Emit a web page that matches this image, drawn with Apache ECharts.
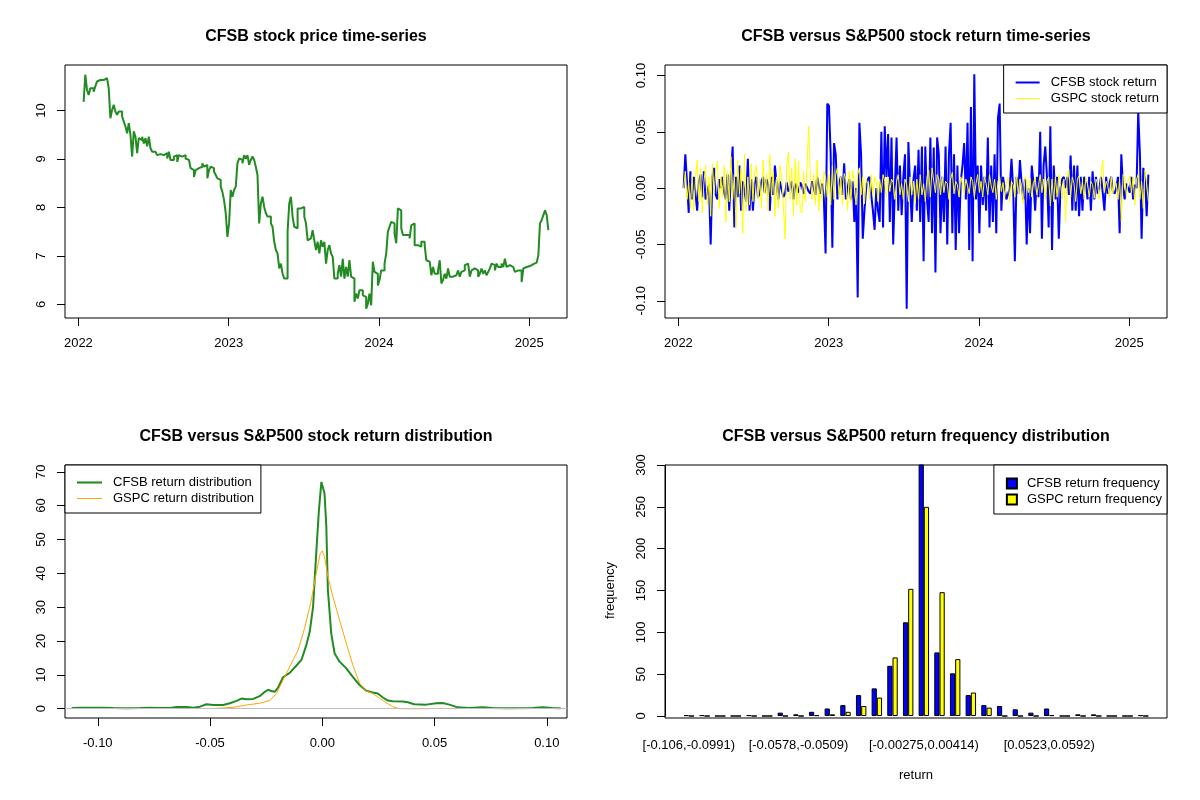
<!DOCTYPE html>
<html>
<head>
<meta charset="utf-8">
<script src="https://cdn.jsdelivr.net/npm/echarts@6/dist/echarts.min.js"></script>
<style>
  html, body { margin: 0; padding: 0; background: #fff; }
  #chart { width: 1200px; height: 800px; }
</style>
</head>
<body>
<div id="chart"></div>
<script>
// ---- data ----
var dateStart = 2022.035, dateEnd = 2025.127;   // decimal years, first/last trading day
var yearTicks = [2022, 2023, 2024, 2025];

var cfsbPrice = [
  10.18, 10.74, 10.43, 10.32, 10.46, 10.46, 10.39, 10.50, 10.60, 10.63,
  10.60, 10.63, 10.63, 10.67, 10.67, 10.46, 9.84, 10.01, 10.12, 9.98,
  9.91, 9.98, 9.98, 9.88, 9.77, 9.67, 9.53, 9.74, 9.50, 9.05,
  9.57, 9.46, 9.12, 9.43, 9.39, 9.46, 9.32, 9.43, 9.26, 9.46,
  9.22, 9.15, 9.15, 9.12, 9.08, 9.10, 9.12, 9.08, 9.05, 9.12,
  9.01, 9.15, 8.98, 8.98, 9.05, 9.08, 8.94, 9.08, 9.05, 9.01,
  9.08, 9.01, 8.98, 8.98, 8.81, 8.77, 8.63, 8.77, 8.81, 8.84,
  8.84, 8.91, 8.84, 8.88, 8.60, 8.77, 8.84, 8.81, 8.74, 8.67,
  8.60, 8.57, 8.43, 8.32, 8.15, 7.88, 7.39, 7.67, 8.36, 8.22,
  8.36, 8.43, 8.91, 9.01, 8.98, 8.91, 9.08, 9.01, 9.08, 8.88,
  8.98, 9.05, 8.98, 8.84, 8.67, 7.67, 8.08, 8.22, 8.01, 7.88,
  7.81, 7.81, 7.67, 7.60, 7.29, 7.12, 7.05, 6.74, 6.84, 6.63,
  6.53, 6.53, 7.50, 8.08, 8.22, 7.81, 7.60, 7.57, 7.98, 7.98,
  7.94, 8.01, 7.81, 7.67, 7.32, 7.36, 7.36, 7.53, 7.32, 7.12,
  7.29, 7.05, 7.32, 7.19, 7.29, 6.84, 7.12, 7.22, 7.05, 6.98,
  6.53, 6.53, 6.63, 6.81, 6.57, 6.94, 6.53, 6.77, 6.57, 6.91,
  6.57, 6.53, 6.05, 6.22, 6.12, 6.29, 6.29, 6.19, 6.15, 5.91,
  6.01, 6.22, 5.98, 6.88, 6.67, 6.63, 6.39, 6.50, 6.70, 6.70,
  6.84, 7.05, 7.50, 7.60, 7.70, 7.67, 7.46, 7.26, 7.98, 7.94,
  7.57, 7.43, 7.43, 7.43, 7.43, 7.36, 7.63, 7.67, 7.22, 7.22,
  7.22, 7.19, 7.29, 7.29, 7.22, 6.91, 6.88, 6.88, 6.60, 6.77,
  6.63, 6.63, 6.70, 6.91, 6.43, 6.50, 6.63, 6.53, 6.74, 6.57,
  6.57, 6.60, 6.60, 6.63, 6.70, 6.57, 6.67, 6.70, 6.81, 6.84,
  6.84, 6.57, 6.70, 6.74, 6.70, 6.70, 6.57, 6.63, 6.74, 6.63,
  6.70, 6.60, 6.67, 6.74, 6.84, 6.81, 6.70, 6.84, 6.77, 6.77,
  6.84, 6.77, 6.94, 6.77, 6.81, 6.77, 6.77, 6.74, 6.67, 6.70,
  6.74, 6.70, 6.46, 6.74, 6.77, 6.77, 6.79, 6.81, 6.83, 6.84,
  6.86, 6.88, 7.01, 7.67, 7.74, 7.84, 7.94, 7.84, 7.53
];

var cfsbReturn = [
  0.000, 0.030, 0.005, -0.022, 0.015, -0.010, 0.010, -0.005, -0.020, 0.005,
  0.012, -0.008, 0.015, -0.010, -0.005, 0.003, -0.050, 0.010, 0.018, -0.006,
  -0.010, 0.008, 0.000, 0.010, -0.004, -0.010, 0.012, -0.020, 0.012, 0.037,
  -0.035, 0.010, -0.008, 0.020, -0.020, 0.006, 0.005, -0.012, 0.026, -0.020,
  0.008, -0.020, 0.004, 0.010, -0.008, -0.005, 0.006, 0.010, -0.004, 0.008,
  0.003, -0.020, 0.010, -0.006, 0.020, 0.004, -0.010, 0.006, 0.005, -0.008,
  -0.005, 0.005, -0.003, 0.000, 0.006, -0.010, 0.004, 0.000, -0.004, 0.005,
  0.002, -0.005, 0.004, 0.005, -0.003, -0.005, 0.006, 0.000, -0.006, 0.010,
  0.002, -0.005, 0.004, -0.010, -0.058, 0.075, 0.073, 0.030, -0.053, 0.040,
  0.030, -0.010, 0.004, 0.010, -0.006, 0.022, -0.010, 0.000, 0.008, -0.010,
  0.006, -0.030, 0.000, -0.097, 0.058, 0.030, -0.045, -0.020, 0.000, 0.008,
  0.010, -0.006, -0.020, -0.037, 0.000, -0.020, -0.030, 0.050, -0.035, 0.055,
  0.010, 0.048, -0.030, 0.045, -0.050, 0.000, 0.045, -0.020, 0.020, -0.024,
  0.010, 0.030, -0.107, 0.041, 0.000, -0.030, 0.008, 0.020, -0.020, 0.034,
  -0.030, 0.037, -0.065, 0.037, -0.010, -0.030, 0.045, -0.040, 0.036, -0.075,
  0.045, 0.030, -0.040, 0.010, -0.030, 0.037, -0.050, 0.030, 0.058, -0.040,
  0.030, -0.055, 0.020, -0.040, 0.006, 0.020, 0.040, -0.010, 0.058, -0.055,
  0.072, -0.065, 0.101, -0.010, 0.020, -0.040, 0.020, -0.015, 0.010, -0.020,
  0.045, -0.035, 0.020, -0.030, 0.030, -0.040, 0.062, 0.075, -0.020, 0.010,
  0.000, -0.010, -0.005, 0.000, 0.026, 0.000, -0.065, 0.010, -0.005, 0.025,
  0.004, -0.010, 0.008, -0.050, 0.000, -0.040, 0.020, 0.005, -0.020, 0.010,
  -0.008, 0.050, -0.045, 0.020, 0.037, 0.010, -0.035, 0.055, -0.055, 0.020,
  -0.010, 0.010, -0.045, 0.000, 0.008, 0.010, 0.000, 0.010, -0.006, 0.029,
  -0.020, 0.020, -0.020, 0.020, -0.025, 0.010, -0.020, 0.010, 0.004, -0.010,
  0.010, -0.020, 0.015, -0.010, 0.010, -0.005, 0.000, 0.010, -0.004, -0.020,
  0.010, -0.005, 0.004, 0.010, -0.003, -0.005, 0.000, 0.010, -0.040, 0.030,
  0.000, -0.010, 0.004, 0.000, -0.004, 0.010, -0.010, 0.003, 0.000, 0.068,
  0.030, -0.045, 0.018, 0.010, -0.025, 0.012
];

var gspcReturn = [
  // 2022
  0.000, 0.015, -0.010, 0.005, -0.018, 0.012, -0.020, 0.008, 0.025, -0.012,
  0.018, -0.022, 0.005, 0.020, -0.015, 0.010, -0.025, 0.022, -0.005, 0.015,
  0.024, -0.018, 0.010, -0.008, 0.020, -0.030, 0.015, -0.012, 0.028, -0.010,
  0.012, -0.035, 0.025, -0.005, 0.018, -0.040, 0.030, -0.020, 0.010, -0.015,
  0.022, -0.012, 0.015, 0.020, -0.010, 0.008, -0.018, 0.025, -0.005, 0.012,
  -0.020, 0.030, -0.008, 0.015, -0.025, 0.010, -0.018, 0.020, 0.012, -0.015,
  -0.045, 0.020, 0.032, -0.010, 0.018, -0.025, 0.026, -0.015, 0.024, -0.020,
  -0.022, 0.015, -0.012, 0.020, 0.055, 0.010, -0.010, 0.012, -0.015, 0.025,
  -0.020, 0.008, -0.012, 0.015, 0.010, -0.008, 0.012, -0.015,
  // 2023
  0.020, -0.010, 0.012, 0.018, -0.008, 0.010, -0.015, 0.013, 0.008, -0.020,
  0.015, -0.012, 0.016, 0.005, -0.015, 0.012, 0.018, -0.006, 0.010, -0.014,
  0.008, 0.004, -0.010, 0.012, -0.006, 0.010, 0.006, -0.012, 0.008, -0.004,
  0.012, 0.006, -0.008, 0.010, -0.003, 0.008, 0.005, -0.010, 0.006, 0.012,
  -0.006, 0.004, -0.010, 0.008, 0.003, -0.012, 0.010, -0.006, 0.006, -0.014,
  0.008, -0.010, 0.012, -0.006, 0.004, -0.012, 0.010, 0.016, -0.008, 0.018,
  0.006, -0.004, 0.012, 0.008, -0.006, 0.010, -0.004, 0.006, 0.004, -0.010,
  0.008, 0.014, -0.005, 0.006, 0.003, -0.008, 0.010, 0.004, -0.006, 0.008,
  0.002, -0.005, 0.010, 0.006, -0.008, 0.004, 0.012, -0.004, 0.006,
  // 2024
  -0.008, 0.010, 0.004, -0.006, 0.012, 0.002, -0.004, 0.008, -0.010, 0.006,
  0.010, -0.003, 0.005, -0.008, 0.004, 0.010, -0.012, 0.006, 0.003, -0.008,
  0.012, -0.005, 0.008, 0.002, -0.014, 0.010, 0.006, -0.004, 0.009, -0.008,
  0.004, 0.010, -0.006, 0.003, 0.012, -0.004, 0.008, -0.010, 0.006, 0.010,
  -0.016, 0.008, -0.012, 0.010, -0.008, 0.012, 0.004, -0.010, 0.008, -0.030,
  0.012, 0.017, -0.008, 0.010, 0.004, -0.012, 0.008, 0.011, -0.005, 0.006,
  -0.010, 0.010, 0.004, -0.008, 0.006, 0.003, -0.009, 0.008, 0.004, -0.010,
  0.012, 0.025, -0.004, 0.006, 0.002, -0.008, 0.010, -0.005, 0.006, 0.004,
  -0.010, 0.008, -0.030, 0.012, 0.010, -0.008, 0.006, 0.011, -0.004,
  // 2025
  0.010, -0.015, 0.008, 0.012, -0.010, 0.006, -0.018, 0.016, 0.004, -0.012
];

// kernel density curves (return, density)
var cfsbDensX = [-0.1116, -0.1079, -0.1019, -0.0975, -0.0930, -0.0871, -0.0812, -0.0767, -0.0723, -0.0679,
  -0.0649, -0.0604, -0.0575, -0.0545, -0.0516, -0.0486, -0.0441, -0.0412, -0.0382, -0.0360,
  -0.0338, -0.0308, -0.0279, -0.0256, -0.0241, -0.0227, -0.0212, -0.0197, -0.0175, -0.0145,
  -0.0116, -0.0093, -0.0071, -0.0056, -0.0041, -0.0027, -0.0015, -0.0004, 0.0003, 0.0010,
  0.0018, 0.0025, 0.0040, 0.0055, 0.0077, 0.0107, 0.0136, 0.0166, 0.0196, 0.0225,
  0.0247, 0.0270, 0.0292, 0.0314, 0.0359, 0.0381, 0.0410, 0.0462, 0.0507, 0.0536,
  0.0566, 0.0603, 0.0655, 0.0714, 0.0759, 0.0833, 0.0936, 0.0981, 0.1025, 0.1062];
var cfsbDensY = [0.2, 0.3, 0.3, 0.3, 0.2, 0.1, 0.2, 0.3, 0.2, 0.2,
  0.5, 0.5, 0.3, 0.6, 1.3, 1.1, 1.1, 1.6, 2.3, 3.0,
  2.8, 2.9, 3.7, 5.0, 5.6, 5.2, 5.0, 6.2, 9.3, 10.6,
  12.7, 14.4, 18.8, 22.7, 30.1, 45.9, 58.7, 67.0, 67.3, 63.6,
  53.7, 35.0, 22.2, 16.3, 13.9, 11.9, 9.4, 7.0, 5.3, 4.8,
  4.5, 3.3, 2.4, 2.2, 2.1, 1.9, 1.3, 1.2, 1.6, 1.7,
  1.2, 0.4, 0.2, 0.4, 0.2, 0.1, 0.2, 0.4, 0.2, 0.1];
var gspcDensX = [-0.0471, -0.0397, -0.0338, -0.0279, -0.0234, -0.0204, -0.0175, -0.0145, -0.0108, -0.0079,
  -0.0049, -0.0027, -0.0009, 0.0000, 0.0010, 0.0025, 0.0047, 0.0077, 0.0107, 0.0136,
  0.0166, 0.0196, 0.0225, 0.0255, 0.0284, 0.0314, 0.0344, 0.0403, 0.0462, 0.0507,
  0.0536, 0.0566, 0.0596];
var gspcDensY = [0.1, 0.4, 1.1, 1.6, 2.4, 4.5, 8.4, 12.4, 17.3, 23.7,
  32.1, 40.0, 45.9, 46.6, 44.9, 39.0, 33.1, 26.2, 19.3, 12.9,
  7.5, 5.2, 4.5, 3.1, 1.8, 0.6, 0.0, 0.0, 0.0, 0.1,
  0.1, 0.05, 0.0];

// return frequency table
var binLabels = ['[-0.106,-0.0991)', '[-0.0991,-0.0923)', '[-0.0923,-0.0854)', '[-0.0854,-0.0785)',
  '[-0.0785,-0.0716)', '[-0.0716,-0.0647)', '[-0.0647,-0.0578)', '[-0.0578,-0.0509)',
  '[-0.0509,-0.0441)', '[-0.0441,-0.0372)', '[-0.0372,-0.0303)', '[-0.0303,-0.0234)',
  '[-0.0234,-0.0165)', '[-0.0165,-0.00963)', '[-0.00963,-0.00275)', '[-0.00275,0.00414)',
  '[0.00414,0.011)', '[0.011,0.0179)', '[0.0179,0.0248)', '[0.0248,0.0317)',
  '[0.0317,0.0386)', '[0.0386,0.0455)', '[0.0455,0.0523)', '[0.0523,0.0592)',
  '[0.0592,0.0661)', '[0.0661,0.073)', '[0.073,0.0799)', '[0.0799,0.0868)',
  '[0.0868,0.0936)', '[0.0936,0.101]'];
var cfsbFreq = [1, 1, 0, 0, 1, 0, 4, 2, 5, 9, 13, 25, 33, 60, 112, 310, 76, 51, 25, 13, 12, 8, 4, 9, 0, 2, 2, 0, 0, 1];
var gspcFreq = [0, 0, 0, 0, 0, 0, 0, 0, 1, 2, 5, 12, 22, 70, 152, 250, 148, 68, 28, 10, 0, 0, 0, 1, 0, 0, 0, 0, 0, 0];
var shownBins = [0, 7, 15, 23];

// ---- chart ----
var FONT = 'Liberation Sans, Arial, Helvetica, sans-serif';
var THICK = 'path://M0,0H24V2H0Z';   // legend line samples
var THIN = 'path://M0,0H24V1H0Z';

function onDates(values) {
  // daily series spread evenly between first and last trading day
  var step = (dateEnd - dateStart) / (values.length - 1);
  return values.map(function (v, i) { return [dateStart + i * step, v]; });
}
function pairs(xs, ys) {
  return xs.map(function (x, i) { return [x, ys[i]]; });
}

function valueAxis(grid, min, max, ticks, digits, isY) {
  return {
    type: 'value', gridIndex: grid, min: min, max: max, scale: true,
    axisLine: { show: false, onZero: false },
    splitLine: { show: false },
    axisTick: { show: true, length: 8, customValues: ticks, lineStyle: { color: '#000', width: 1 } },
    axisLabel: {
      customValues: ticks, color: '#000', fontSize: 13, fontFamily: FONT,
      margin: isY ? 17 : 19, rotate: isY ? 90 : 0,
      formatter: function (v) { return v.toFixed(digits); }
    }
  };
}

var frame = { show: true, borderColor: '#000', borderWidth: 1, backgroundColor: 'transparent' };
function titleAt(text, x, y) {
  return { text: text, left: x, top: y, textAlign: 'center', padding: 0,
    textStyle: { fontSize: 16, fontWeight: 'bold', color: '#000', fontFamily: FONT } };
}
function legendBox(extra) {
  var base = {
    orient: 'vertical', selectedMode: false, backgroundColor: '#fff',
    borderColor: '#000', borderWidth: 1, borderRadius: 0, itemGap: 3,
    textStyle: { fontSize: 13, fontFamily: FONT, color: '#000', padding: [0, 0, 0, 6] }
  };
  return Object.assign(base, extra);
}

var chart = echarts.init(document.getElementById('chart'));
var option = {
  animation: false,
  backgroundColor: '#fff',
  title: [
    titleAt('CFSB stock price time-series', 316, 29),
    titleAt('CFSB versus S&P500 stock return time-series', 916, 29),
    titleAt('CFSB versus S&P500 stock return distribution', 316, 429),
    titleAt('CFSB versus S&P500 return frequency distribution', 916, 429)
  ],
  legend: [
    legendBox({
      data: [{ name: 'CFSB stock return', icon: THICK }, { name: 'GSPC stock return', icon: THIN }],
      right: 33, top: 65, itemWidth: 24, itemHeight: 13, padding: [11, 8, 8, 12],
      itemStyle: { borderWidth: 0 }
    }),
    legendBox({
      data: [{ name: 'CFSB return distribution', icon: THICK }, { name: 'GSPC return distribution', icon: THIN }],
      left: 65, top: 465, itemWidth: 25, itemHeight: 13, padding: [11, 7, 8, 12],
      itemStyle: { borderWidth: 0 }
    }),
    legendBox({
      data: [{ name: 'CFSB return frequency', icon: 'rect' }, { name: 'GSPC return frequency', icon: 'rect' }],
      right: 33, top: 465, itemWidth: 10, itemHeight: 10, itemGap: 3, padding: [12, 5, 8, 12],
      textStyle: { fontSize: 13, fontFamily: FONT, color: '#000', padding: [0, 0, 0, 5] }
    })
  ],
  grid: [
    Object.assign({ left: 65, top: 65, width: 502, height: 253 }, frame),
    Object.assign({ left: 665, top: 65, width: 502, height: 253 }, frame),
    Object.assign({ left: 65, top: 465, width: 502, height: 253 }, frame),
    { left: 681, top: 465, width: 470, height: 251, show: false },
    Object.assign({ left: 665, top: 465, width: 502, height: 253 }, frame)
  ],
  xAxis: [
    valueAxis(0, 2021.911, 2025.251, yearTicks, 0, false),
    valueAxis(1, 2021.911, 2025.251, yearTicks, 0, false),
    valueAxis(2, -0.1146, 0.1090, [-0.10, -0.05, 0, 0.05, 0.10], 2, false),
    {
      type: 'category', gridIndex: 3, data: binLabels,
      axisLine: { show: false }, axisTick: { show: false },
      axisLabel: {
        color: '#000', fontSize: 13, fontFamily: FONT, margin: 23,
        interval: function (i) { return shownBins.indexOf(i) >= 0; }
      },
      name: 'return', nameLocation: 'middle', nameGap: 53,
      nameTextStyle: { color: '#000', fontSize: 13, fontFamily: FONT }
    },
    { type: 'value', gridIndex: 4, show: false }
  ],
  yAxis: [
    valueAxis(0, 5.717, 10.94, [6, 7, 8, 9, 10], 0, true),
    valueAxis(1, -0.1153, 0.1093, [-0.10, -0.05, 0, 0.05, 0.10], 2, true),
    valueAxis(2, -2.75, 72.0, [0, 10, 20, 30, 40, 50, 60, 70], 0, true),
    {
      type: 'value', gridIndex: 3, min: 0, max: 300, interval: 50, offset: 16,
      axisLine: { show: true, onZero: false, lineStyle: { color: '#000', width: 1 } },
      splitLine: { show: false },
      axisTick: { show: true, length: 8, lineStyle: { color: '#000' } },
      axisLabel: { color: '#000', fontSize: 13, fontFamily: FONT, margin: 17, rotate: 90 },
      name: 'frequency', nameLocation: 'middle', nameGap: 48,
      nameTextStyle: { color: '#000', fontSize: 13, fontFamily: FONT }
    },
    { type: 'value', gridIndex: 4, show: false }
  ],
  series: [
    {
      name: 'CFSB price', type: 'line', xAxisIndex: 0, yAxisIndex: 0,
      data: onDates(cfsbPrice), symbol: 'none', step: 'end',
      lineStyle: { color: '#228B22', width: 2 }, itemStyle: { color: '#228B22' }
    },
    {
      name: 'CFSB stock return', type: 'line', xAxisIndex: 1, yAxisIndex: 1,
      data: onDates(cfsbReturn), symbol: 'none',
      lineStyle: { color: '#0000FF', width: 2 }, itemStyle: { color: '#0000FF' }
    },
    {
      name: 'GSPC stock return', type: 'line', xAxisIndex: 1, yAxisIndex: 1,
      data: onDates(gspcReturn), symbol: 'none',
      lineStyle: { color: '#FFFF00', width: 1 }, itemStyle: { color: '#FFFF00' }
    },
    {
      name: 'CFSB return distribution', type: 'line', xAxisIndex: 2, yAxisIndex: 2,
      data: pairs(cfsbDensX, cfsbDensY), symbol: 'none',
      lineStyle: { color: '#228B22', width: 2 }, itemStyle: { color: '#228B22' },
      markLine: {
        silent: true, symbol: 'none', label: { show: false },
        lineStyle: { color: '#BEBEBE', width: 1, type: 'solid' },
        data: [{ yAxis: 0 }]
      }
    },
    {
      name: 'GSPC return distribution', type: 'line', xAxisIndex: 2, yAxisIndex: 2,
      data: pairs(gspcDensX, gspcDensY), symbol: 'none',
      lineStyle: { color: '#FFA500', width: 1 }, itemStyle: { color: '#FFA500' }
    },
    {
      name: 'CFSB return frequency', type: 'bar', xAxisIndex: 3, yAxisIndex: 3,
      data: cfsbFreq, barGap: '0%', barCategoryGap: '33.33%',
      itemStyle: { color: '#0000FF', borderColor: '#000', borderWidth: 1 }
    },
    {
      name: 'GSPC return frequency', type: 'bar', xAxisIndex: 3, yAxisIndex: 3,
      data: gspcFreq, barGap: '0%', barCategoryGap: '33.33%',
      itemStyle: { color: '#FFFF00', borderColor: '#000', borderWidth: 1 }
    }
  ]
};
chart.setOption(option);
</script>
</body>
</html>
